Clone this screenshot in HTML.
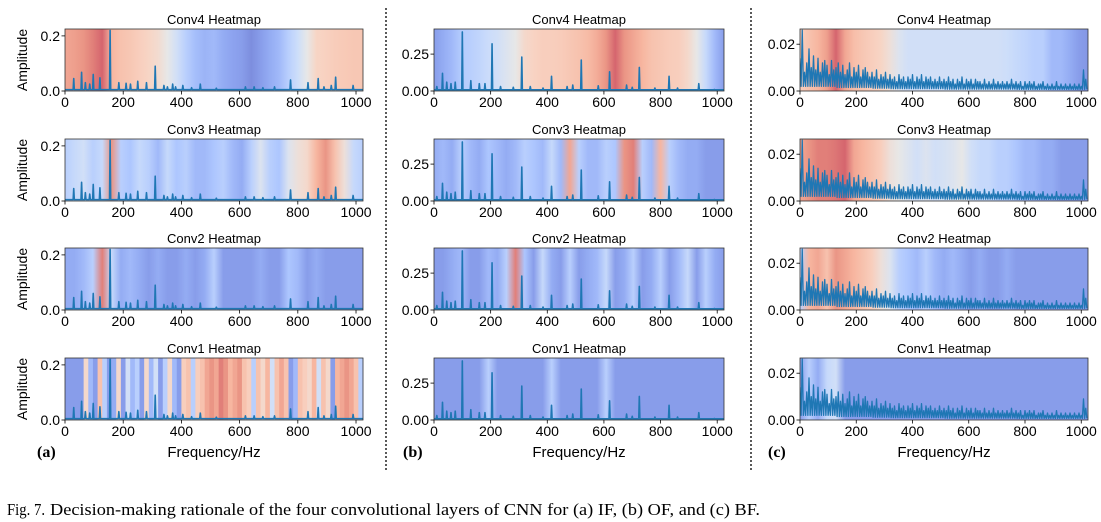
<!DOCTYPE html>
<html><head><meta charset="utf-8"><style>
html,body{margin:0;padding:0;background:#fff;}
svg{display:block;font-family:"Liberation Sans","DejaVu Sans",sans-serif;}
</style></head><body>
<svg id="fig" width="1101" height="522" viewBox="0 0 1101 522" xmlns="http://www.w3.org/2000/svg">
<defs id="defs"></defs>
<line x1="386" y1="8" x2="386" y2="470" stroke="#000" stroke-width="1.3" stroke-dasharray="2,2"/>
<line x1="751" y1="8" x2="751" y2="470" stroke="#000" stroke-width="1.3" stroke-dasharray="2,2"/>
<text x="37" y="457" font-family="Liberation Serif,serif" font-weight="bold" font-size="16">(a)</text>
<text x="403" y="457" font-family="Liberation Serif,serif" font-weight="bold" font-size="16">(b)</text>
<text x="768" y="457" font-family="Liberation Serif,serif" font-weight="bold" font-size="16">(c)</text>
<text x="214" y="457" text-anchor="middle" font-size="15">Frequency/Hz</text>
<text x="579" y="457" text-anchor="middle" font-size="15">Frequency/Hz</text>
<text x="944" y="457" text-anchor="middle" font-size="15">Frequency/Hz</text>
<text y="515" font-family="Liberation Serif,serif" font-size="17"><tspan x="7" textLength="38" lengthAdjust="spacingAndGlyphs">Fig. 7.</tspan><tspan x="50" textLength="710" lengthAdjust="spacingAndGlyphs">Decision-making rationale of the four convolutional layers of CNN for (a) IF, (b) OF, and (c) BF.</tspan></text>
</svg>
<script>
// ---- data ----
const layerNames = ["Conv4","Conv3","Conv2","Conv1"];
const xTicks = [0,200,400,600,800,1000];
const yTicksA = [0,0.2];
const yTickLabelsA = ["0.0","0.2"];
const yTicksB = [0,0.25];
const yTickLabelsB = ["0.00","0.25"];
const yTicksC = [0,0.02];
const yTickLabelsC = ["0.00","0.02"];
// IF peaks
const peakFreqA = [30,57,70,85,97,120,155,185,210,225,250,280,310,340,352,370,380,405,435,465,520,620,650,680,720,775,835,870,890,915,930,990];
const peakAmpA  = [0.045,0.068,0.03,0.025,0.06,0.048,0.22,0.03,0.028,0.025,0.035,0.03,0.09,0.02,0.015,0.025,0.015,0.02,0.012,0.025,0.01,0.015,0.015,0.012,0.015,0.04,0.03,0.045,0.015,0.02,0.05,0.02];
const baseA = 0.005;
// OF peaks
const peakFreqB = [10,30,45,60,75,100,130,160,180,205,235,280,310,340,385,415,470,490,520,580,620,680,700,725,780,830,860,935,990];
const peakAmpB  = [0.03,0.12,0.06,0.05,0.06,0.4,0.07,0.05,0.05,0.32,0.03,0.025,0.23,0.03,0.02,0.1,0.03,0.04,0.21,0.035,0.13,0.04,0.025,0.16,0.02,0.1,0.02,0.05,0.01];
const baseB = 0.008;
// BF spectrum band tops, 8 Hz bins
const specC = [.014,.026,.008,.012,.018,.01,.015,.009,.014,.008,.012,.013,.011,.007,.013,.009,
.01,.012,.008,.011,.007,.009,.012,.006,.01,.008,.011,.006,.009,.01,.008,.006,
.008,.006,.009,.005,.007,.006,.008,.005,.007,.005,.006,.004,.007,.005,.006,.004,
.006,.005,.007,.004,.006,.005,.007,.004,.006,.005,.006,.004,.005,.004,.006,.004,
.005,.004,.006,.004,.005,.003,.005,.004,.006,.003,.005,.004,.005,.003,.005,.004,
.004,.003,.005,.003,.004,.003,.005,.003,.004,.003,.004,.003,.004,.003,.005,.003,
.004,.003,.004,.002,.004,.003,.004,.003,.004,.002,.003,.003,.004,.002,.003,.002,
.003,.002,.004,.002,.003,.002,.003,.002,.003,.002,.003,.002,.003,.002,.009,.005];
// BF spectrum band floor, per 64 Hz block
const specCMin = [.002,.002,.0015,.0015,.0012,.001,.001,.001,.0008,.0008,.0008,.0008,.0007,.0007,.0007,.0007];
// heatmap importance values (0=cool, 1=warm), evenly spaced over 0..1024
const heatA4 = [.8,.82,.85,.9,.95,.75,.7,.68,.65,.62,.58,.5,.4,.3,.22,.18,.2,.15,.12,.1,.05,.1,.15,.2,.3,.38,.5,.62,.64,.66,.67,.68,.68];
const heatA3 = [.3,.35,.4,.3,.35,.85,.3,.25,.35,.3,.2,.35,.25,.3,.2,.2,.25,.3,.2,.15,.3,.45,.3,.25,.45,.55,.6,.75,.85,.7,.55,.35,.3];
const heatA2 = [.15,.15,.2,.3,.9,.35,.15,.2,.15,.1,.15,.1,.1,.15,.1,.15,.3,.1,.1,.1,.1,.15,.1,.1,.25,.2,.1,.15,.1,.1,.1,.1,.1];
const heatA1 = [.1,.1,.1,.1,.6,.2,.1,.7,.3,.1,.15,.6,.1,.4,.2,.3,.1,.6,.2,.4,.1,.3,.6,.2,.1,.65,.7,.3,.65,.7,.8,.85,.8,.9,.85,.75,.8,.85,.7,.65,.3,.7,.6,.75,.4,.7,.8,.7,.1,.2,.7,.65,.6,.75,.4,.7,.6,.1,.75,.8,.85,.8,.7,.3];
const heatB4 = [.1,.15,.2,.28,.3,.33,.37,.4,.45,.5,.6,.63,.65,.65,.66,.68,.7,.73,.78,.85,.95,.85,.8,.75,.7,.68,.66,.65,.6,.5,.35,.2,.1];
const heatB3 = [.15,.2,.15,.3,.2,.15,.25,.2,.15,.2,.3,.25,.2,.35,.2,.8,.3,.2,.2,.3,.25,.85,.9,.3,.2,.75,.3,.2,.15,.15,.1,.1,.1];
const heatB2 = [.1,.1,.15,.2,.1,.1,.2,.15,.3,.9,.25,.1,.35,.15,.1,.3,.1,.15,.2,.35,.1,.15,.3,.1,.15,.3,.1,.2,.35,.1,.3,.15,.1];
const heatB1 = [.1,.1,.1,.1,.1,.1,.3,.1,.1,.1,.1,.1,.1,.3,.1,.1,.1,.1,.1,.3,.1,.1,.1,.1,.1,.1,.1,.1,.1,.1,.1,.1,.1];
const heatC4 = [.65,.7,.75,.82,.95,.8,.72,.68,.65,.62,.55,.45,.4,.4,.4,.4,.4,.4,.4,.4,.4,.4,.4,.38,.35,.33,.3,.3,.2,.2,.15,.1,.08];
const heatC3 = [.8,.85,.9,.9,.92,.95,.8,.75,.7,.65,.55,.5,.45,.4,.45,.4,.42,.45,.5,.4,.35,.35,.3,.3,.25,.2,.2,.15,.15,.1,.1,.1,.1];
const heatC2 = [.3,.75,.8,.7,.85,.8,.75,.7,.65,.55,.45,.3,.25,.2,.3,.2,.15,.2,.15,.1,.15,.1,.1,.15,.1,.1,.1,.1,.1,.1,.1,.1,.1];
const heatC1 = [.1,.3,.15,.35,.4,.1,.1,.1,.1,.1,.1,.1,.1,.1,.1,.1,.1,.1,.1,.1,.1,.1,.1,.1,.1,.1,.1,.1,.1,.1,.1,.1,.1];

const NS="http://www.w3.org/2000/svg";
const svg=document.getElementById('fig'), defs=document.getElementById('defs');
const XMAX=1024;
const cols=[
 {key:'a',x0:65,x1:363,ymax:0.225,yt:yTicksA,yl:yTickLabelsA,heats:[heatA4,heatA3,heatA2,heatA1],step:[false,false,false,true]},
 {key:'b',x0:434,x1:724,ymax:0.42,yt:yTicksB,yl:yTickLabelsB,heats:[heatB4,heatB3,heatB2,heatB1],step:[false,false,false,false]},
 {key:'c',x0:800,x1:1088,ymax:0.0265,yt:yTicksC,yl:yTickLabelsC,heats:[heatC4,heatC3,heatC2,heatC1],step:[false,false,false,false]}
];
const rowTops=[29,139,248,358], H=62;
const cw=[[0,[59,76,192]],[.125,[98,130,234]],[.25,[141,176,254]],[.375,[184,208,249]],[.5,[221,221,221]],[.625,[245,196,173]],[.75,[244,154,123]],[.875,[222,96,77]],[1,[180,4,38]]];
function cool(v){v=Math.max(0,Math.min(1,v));for(let i=1;i<cw.length;i++){if(v<=cw[i][0]){const a=cw[i-1],b=cw[i],t=(v-a[0])/(b[0]-a[0]);const c=a[1].map((x,k)=>Math.round((x+(b[1][k]-x)*t)*0.72+255*0.28));return `rgb(${c[0]},${c[1]},${c[2]})`;}}}
function mk(tag,attrs,parent){const e=document.createElementNS(NS,tag);for(const k in attrs)e.setAttribute(k,attrs[k]);(parent||svg).appendChild(e);return e;}
function spikeSeries(freqs,amps,base){const pts=[[0,base]];const order=freqs.map((f,i)=>i).sort((a,b)=>freqs[a]-freqs[b]);for(const i of order){pts.push([freqs[i]-2,base],[freqs[i],amps[i]],[freqs[i]+2,base]);}pts.push([XMAX,base]);return pts;}
const seriesA=spikeSeries(peakFreqA,peakAmpA,baseA);
const seriesB=spikeSeries(peakFreqB,peakAmpB,baseB);
const seriesC=[];
specC.forEach((v,i)=>{seriesC.push([i*8,v]);seriesC.push([i*8+4,specCMin[Math.floor(i/8)]]);});
const series=[seriesA,seriesB,seriesC];

cols.forEach((c,ci)=>{
 const xs=f=>c.x0+(f/XMAX)*(c.x1-c.x0);
 rowTops.forEach((top,ri)=>{
  const ys=v=>top+H-(v/c.ymax)*H;
  const g=mk('g',{});
  
  
  const heat=c.heats[ri];
  if(c.step[ri]){
   const w=(c.x1-c.x0)/heat.length;
   heat.forEach((v,i)=>{const r=mk('rect',{x:c.x0+i*w,y:top,width:w+0.4,height:H,fill:cool(v)},g);
    
    });
  } else {
   const id=`hg-${c.key}-${ri}`;
   const lg=mk('linearGradient',{id:id,x1:0,y1:0,x2:1,y2:0},defs);
   heat.forEach((v,i)=>mk('stop',{offset:(i/(heat.length-1)),'stop-color':cool(v)},lg));
   const r=mk('rect',{x:c.x0,y:top,width:c.x1-c.x0,height:H,fill:`url(#${id})`},g);
   
   
  }
  const d=series[ci].map((p,i)=>(i?'L':'M')+xs(p[0]).toFixed(2)+','+ys(p[1]).toFixed(2)).join('');
  const cp=mk('clipPath',{id:`cp-${c.key}-${ri}`},defs);
  mk('rect',{x:c.x0,y:top,width:c.x1-c.x0,height:H},cp);
  const ln=mk('path',{d:d,fill:'none',stroke:'#1f77b4','stroke-width':ci==2?1.3:1.6,'stroke-linejoin':'round','clip-path':`url(#cp-${c.key}-${ri})`},g);
  
  
  const fr=mk('rect',{x:c.x0,y:top,width:c.x1-c.x0,height:H,fill:'none',stroke:'#333','stroke-width':0.8},g);
  
  
  const t=mk('text',{x:(c.x0+c.x1)/2,y:top-5,'text-anchor':'middle','font-size':13},g);
  t.textContent=layerNames[ri]+' Heatmap';
  
  
  xTicks.forEach(v=>{const x=xs(v);mk('line',{x1:x,y1:top+H,x2:x,y2:top+H+3.5,stroke:'#000','stroke-width':0.8},g);
   const tl=mk('text',{x:x,y:top+H+16,'text-anchor':'middle','font-size':14},g);tl.textContent=v;
   
   });
  c.yt.forEach((v,i)=>{const y=ys(v);mk('line',{x1:c.x0-3.5,y1:y,x2:c.x0,y2:y,stroke:'#000','stroke-width':0.8},g);
   const tl=mk('text',{x:c.x0-5,y:y+5,'text-anchor':'end','font-size':14},g);tl.textContent=c.yl[i];
   
   });
  if(ci===0){const yl=mk('text',{x:0,y:0,'text-anchor':'middle','font-size':14,transform:`translate(27,${top+H/2}) rotate(-90)`},g);
   yl.textContent='Amplitude';
   
   }
 });
});
</script>
</body></html>
